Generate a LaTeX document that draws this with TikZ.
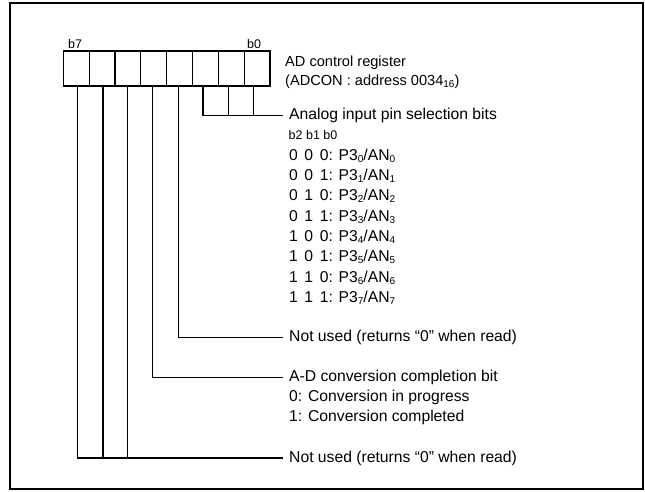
\documentclass[tikz,border=0pt]{standalone}
\usepackage{fontspec}
\setmainfont{Liberation Sans}
\newcommand\lo[1]{\raisebox{-0.25ex}{\fontsize{10}{10}\selectfont #1}}
\newcommand\dg[1]{\makebox[15.3pt][l]{#1}}
\begin{document}
\begin{tikzpicture}[x=1pt,y=-1pt,
  cell/.style={draw,line width=1.2pt,minimum width=25.85pt,minimum height=35pt,inner sep=0pt,outer sep=0pt},
  wire/.style={line width=1.2pt},
  txt/.style={anchor=west,inner sep=0pt,font=\fontsize{15.7}{18}\selectfont},
  ttl/.style={anchor=west,inner sep=0pt,font=\fontsize{14.6}{17}\selectfont},
  small/.style={anchor=west,inner sep=0pt,font=\fontsize{12.5}{13}\selectfont}]
\useasboundingbox (0,0) rectangle (645,491);
\draw[line width=2pt] (10,2.5) rectangle (643,489);
% register cells b7..b0
\foreach \i [count=\k from 0] in {7,6,5,4,3,2,1,0}
  \node[cell] (c\i) at (76.2+25.85*\k,68.5) {};
\node[small] (lb7) at (68,44) {b7};
\node[small] (lb0) at (247,44) {b0};
\node[ttl] (title1) at (285,62.5) {AD control register};
\node[ttl] (title2) at (285,82) {(ADCON : address 0034\lo{16})};
% wire tops
\foreach \i/\x in {7/77.7,6/103,5/127.7,4/152.3,3/178.7,2/203,1/228.3,0/253.7}
  \coordinate (t\i) at (\x,86);
% texts
\node[txt] (sel) at (289,115.5) {Analog input pin selection bits};
\node[small] (hdr) at (288.5,135) {b2 b1 b0};
\foreach \a/\b/\c/\n [count=\r from 0] in {0/0/0/0,0/0/1/1,0/1/0/2,0/1/1/3,1/0/0/4,1/0/1/5,1/1/0/6,1/1/1/7}
  \node[txt] (row\r) at (289,155.5+20.35*\r) {\dg{\a}\dg{\b}\c: P3\lo{\n}/AN\lo{\n}};
\node[txt] (nu1) at (289,337.3) {Not used (returns “0” when read)};
\node[txt] (adc) at (289,377.5) {A-D conversion completion bit};
\node[txt] (adc0) at (289,397.7) {0: Conversion in progress};
\node[txt] (adc1) at (289,417.3) {1: Conversion completed};
\node[txt] (nu2) at (289,458) {Not used (returns “0” when read)};
% wires
\draw[wire] (t2) |- (283,115.5) coordinate (e1);
\draw[wire] (t1) -- (t1 |- e1);
\draw[wire] (t0) -- (t0 |- e1);
\draw[wire] (t3) |- ([xshift=-6pt]nu1.west);
\draw[wire] (t4) |- ([xshift=-6pt]adc.west);
\draw[wire] (t7) |- ([xshift=-6pt]nu2.west);
\draw[wire] (t6) -- (t6 |- nu2.west);
\draw[wire] (t5) -- (t5 |- nu2.west);
\end{tikzpicture}
\end{document}
